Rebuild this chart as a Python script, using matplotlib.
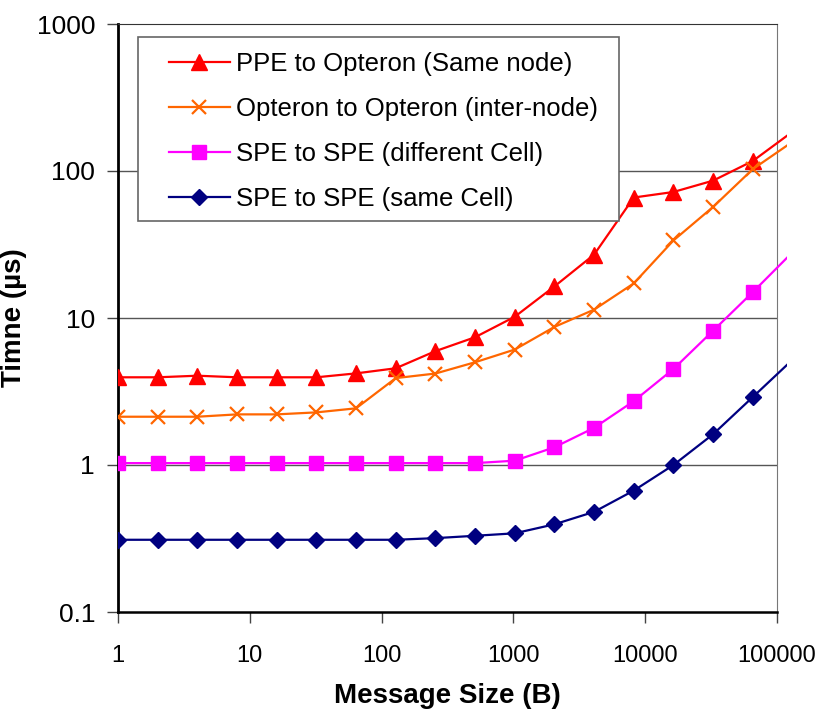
import numpy as np
import matplotlib
matplotlib.use("Agg")
import matplotlib.pyplot as plt
from matplotlib.patches import Rectangle

plt.rcParams['font.family'] = ['Liberation Sans', 'DejaVu Sans']

# message sizes 1 B .. 128 KB
sizes = [2 ** k for k in range(18)]

ppe_opteron = [3.95, 3.95, 4.05, 3.95, 3.95, 3.95, 4.2, 4.55, 5.95, 7.4, 10.2,
               16.4, 27, 66, 72, 86, 117, 185]
opteron_opteron = [2.13, 2.13, 2.13, 2.21, 2.21, 2.28, 2.43, 3.9, 4.19, 5.0, 6.1,
                   8.7, 11.4, 17.2, 33.7, 57, 103, 158]
spe_diff_cell = [1.03, 1.03, 1.03, 1.03, 1.03, 1.03, 1.03, 1.03, 1.03, 1.03, 1.07,
                 1.32, 1.79, 2.72, 4.5, 8.2, 15.0, 28]
spe_same_cell = [0.31, 0.31, 0.31, 0.31, 0.31, 0.31, 0.31, 0.31, 0.318, 0.33, 0.343,
                 0.395, 0.48, 0.67, 1.0, 1.62, 2.9, 5.2]

labels = ["PPE to Opteron (Same node)", "Opteron to Opteron (inter-node)",
          "SPE to SPE (different Cell)", "SPE to SPE (same Cell)"]
x_ticks = [1, 10, 100, 1000, 10000, 100000]
y_ticks = [0.1, 1, 10, 100, 1000]

fig = plt.figure(figsize=(8.25, 7.13), dpi=100)
ax = fig.add_axes([118 / 825, 1 - 612 / 713, 659 / 825, 588 / 713])

styles = [
    dict(color='#FF0000', marker='^', markersize=11),
    dict(color='#FF6600', marker='x', markersize=10, markeredgewidth=1.6),
    dict(color='#FF00FF', marker='s', markersize=10),
    dict(color='#000080', marker='D', markersize=8.5),
]
series = [ppe_opteron, opteron_opteron, spe_diff_cell, spe_same_cell]

# lines run a little past the right edge of the frame, last point unmarked
clip = Rectangle((0, 0), 1.0152, 1, transform=ax.transAxes, facecolor='none')
for vals, lab, st in zip(series, labels, styles):
    ln, = ax.plot(sizes, vals, label=lab, linewidth=1.6, zorder=3,
                  markevery=slice(0, len(sizes) - 1), **st)
    ln.set_clip_path(clip)

ax.set_xscale('log')
ax.set_yscale('log')
ax.set_xlim(1, 100000)
ax.set_ylim(0.1, 1000)
ax.set_xticks(x_ticks)
ax.set_xticklabels([str(v) for v in x_ticks])
ax.set_yticks(y_ticks)
ax.set_yticklabels(['0.1', '1', '10', '100', '1000'])
ax.minorticks_off()
ax.tick_params(axis='both', direction='out', length=8, width=1, color='#444444')
ax.tick_params(axis='x', labelsize=17, pad=16)
ax.tick_params(axis='y', labelsize=19, pad=8.5)

for yv in [1, 10, 100]:
    ax.axhline(yv, color='#555555', linewidth=1, zorder=1)

ax.spines['left'].set_linewidth(2)
ax.spines['bottom'].set_linewidth(1.8)
ax.spines['top'].set_color('#333333')
ax.spines['right'].set_color('#777777')

ax.set_xlabel('Message Size (B)', fontsize=20, fontweight='bold')
ax.xaxis.set_label_coords(0.5, -0.121)
ax.set_ylabel('Timne (µs)', fontsize=20, fontweight='bold')
ax.yaxis.set_label_coords(-0.138, 0.5)

# legend box drawn separately so the inner margins can be set freely
box = Rectangle((0.0303, 0.665), 0.730, 0.313, transform=ax.transAxes,
                facecolor='white', edgecolor='#666666', linewidth=1.2, zorder=5)
ax.add_patch(box)
leg = ax.legend(loc='upper left', bbox_to_anchor=(0.0774, 0.953), fontsize=18.5,
                frameon=False, borderpad=0, labelspacing=0.82, handlelength=2.37,
                handletextpad=0.23, borderaxespad=0)
leg.set_zorder(6)

fig.savefig('out.png', dpi=100)
